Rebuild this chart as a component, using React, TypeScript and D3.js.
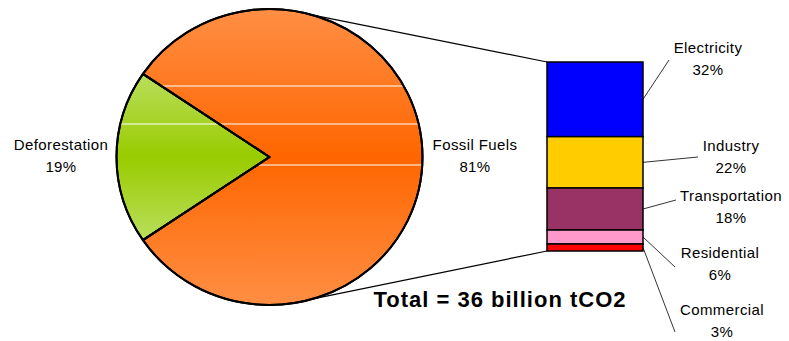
import React from "react";
import * as d3 from "d3";

// ---- data ----
const categories = ["Deforestation", "Fossil Fuels"];
const pieValues = [19, 81];
const sectors = ["Electricity", "Industry", "Transportation", "Residential", "Commercial"];
const sectorValues = [32, 22, 18, 6, 3];
const totalLabel = "Total = 36 billion tCO2";

// ---- layout / style (not data) ----
const W = 789;
const H = 341;
const cx = 269.5;
const cy = 157;
const rx = 153;
const ry = 148;
const R = 150;
const barX0 = 547;
const barX1 = 643;
const barTop = 62;
const barBottom = 251;
const FONT = "'Liberation Sans', Arial, Helvetica, sans-serif";

const pieColors: Record<string, [string, string]> = {
  Deforestation: ["#BADE5C", "#99CC00"],
  "Fossil Fuels": ["#FF8E44", "#FF6600"],
};
const sectorColors = ["#0000FF", "#FFCC00", "#993366", "#FF99CC", "#FF0000"];

// label placement: centre x, first baseline y, leader end point
const sectorLabelPos = [
  { x: 708, y: 53, lx: 669, ly: 60 },
  { x: 731, y: 151, lx: 698, ly: 157 },
  { x: 731, y: 201, lx: 676, ly: 200 },
  { x: 720, y: 258, lx: 675, ly: 267 },
  { x: 722, y: 315, lx: 675, ly: 332 },
];
const pieLabelPos: Record<string, { x: number; y: number }> = {
  Deforestation: { x: 61, y: 150 },
  "Fossil Fuels": { x: 475, y: 150 },
};
// banding lines seen in the rendered gradient
const bandLines: Record<string, number[]> = {
  Deforestation: [124],
  "Fossil Fuels": [86, 124, 165],
};

export default function App() {
  const pie = d3
    .pie<number>()
    .sort(null)
    .startAngle(-Math.PI / 2 - (pieValues[0] / 100) * Math.PI)
    .endAngle(-Math.PI / 2 - (pieValues[0] / 100) * Math.PI + 2 * Math.PI);
  const arcs = pie(pieValues);
  const arcGen = d3.arc<d3.PieArcDatum<number>>().innerRadius(0).outerRadius(R);

  const sx = rx / R;
  const sy = ry / R;

  const total = d3.sum(sectorValues);
  const yScale = d3.scaleLinear().domain([0, total]).range([barTop, barBottom]);
  const cum = d3.cumsum(sectorValues);
  const segs = sectorValues.map((v, i) => ({
    name: sectors[i],
    value: v,
    y0: yScale(cum[i] - v),
    y1: yScale(cum[i]),
  }));

  // connector start points on the pie edge
  const connAngle = 0.288; // radians from 12 o'clock
  const topStart = [cx + rx * Math.sin(connAngle), cy - ry * Math.cos(connAngle)];
  const botStart = [cx + rx * Math.sin(connAngle), cy + ry * Math.cos(connAngle)];

  const lineH = 22;

  return (
    <svg
      width={W}
      height={H}
      style={{ position: "absolute", left: 0, top: 0, background: "#fff" }}
      fontFamily={FONT}
    >
      <defs>
        {categories.map((c, i) => (
          <linearGradient key={c} id={`g${i}`} x1="0" y1="0" x2="0" y2="1">
            <stop offset="0" stopColor={pieColors[c][0]} />
            <stop offset="0.5" stopColor={pieColors[c][1]} />
            <stop offset="1" stopColor={pieColors[c][0]} />
          </linearGradient>
        ))}
        {arcs.map((a, i) => (
          <clipPath key={i} id={`clip${i}`}>
            <path d={arcGen(a) || ""} transform={`translate(${cx},${cy}) scale(${sx},${sy})`} />
          </clipPath>
        ))}
      </defs>

      {/* connector lines */}
      <line x1={topStart[0]} y1={topStart[1]} x2={barX0} y2={barTop} stroke="#000" strokeWidth={1.2} />
      <line x1={botStart[0]} y1={botStart[1]} x2={barX0} y2={barBottom} stroke="#000" strokeWidth={1.2} />

      {/* pie */}
      {arcs.map((a, i) => (
        <g key={categories[i]}>
          <path
            d={arcGen(a) || ""}
            transform={`translate(${cx},${cy}) scale(${sx},${sy})`}
            fill={`url(#g${i})`}
            stroke="#000"
            strokeWidth={2}
            strokeLinejoin="round"
            vectorEffect="non-scaling-stroke"
          />
        </g>
      ))}
      {arcs.map((a, i) => (
        <g key={"band" + i} clipPath={`url(#clip${i})`}>
          {bandLines[categories[i]].map((y) => (
            <line key={y} x1={cx - rx - 5} x2={cx + rx + 5} y1={y} y2={y} stroke="#fff" strokeWidth={1.2} />
          ))}
        </g>
      ))}
      {arcs.map((a, i) => (
        <path
          key={"outline" + i}
          d={arcGen(a) || ""}
          transform={`translate(${cx},${cy}) scale(${sx},${sy})`}
          fill="none"
          stroke="#000"
          strokeWidth={2}
          strokeLinejoin="round"
          vectorEffect="non-scaling-stroke"
        />
      ))}

      {/* pie labels */}
      {categories.map((c, i) => (
        <text key={c} x={pieLabelPos[c].x} y={pieLabelPos[c].y} textAnchor="middle" fontSize={15} letterSpacing={0.4} fill="#000">
          <tspan x={pieLabelPos[c].x}>{c}</tspan>
          <tspan x={pieLabelPos[c].x} dy={lineH}>{`${pieValues[i]}%`}</tspan>
        </text>
      ))}

      {/* stacked bar */}
      {segs.map((s, i) => (
        <rect
          key={s.name}
          x={barX0}
          y={s.y0}
          width={barX1 - barX0}
          height={s.y1 - s.y0}
          fill={sectorColors[i]}
          stroke="#000"
          strokeWidth={1.5}
        />
      ))}

      {/* leader lines + labels */}
      {segs.map((s, i) => {
        const p = sectorLabelPos[i];
        const my = (s.y0 + s.y1) / 2;
        return (
          <g key={"lab" + s.name}>
            <line x1={barX1} y1={my} x2={p.lx} y2={p.ly} stroke="#000" strokeWidth={0.8} />
            <text x={p.x} y={p.y} textAnchor="middle" fontSize={15} letterSpacing={0.4} fill="#000">
              <tspan x={p.x}>{s.name}</tspan>
              <tspan x={p.x} dy={lineH}>{`${s.value}%`}</tspan>
            </text>
          </g>
        );
      })}

      {/* total */}
      <text x={500} y={307} textAnchor="middle" fontSize={22} fontWeight="bold" letterSpacing={1} fill="#000">
        {totalLabel}
      </text>
    </svg>
  );
}
